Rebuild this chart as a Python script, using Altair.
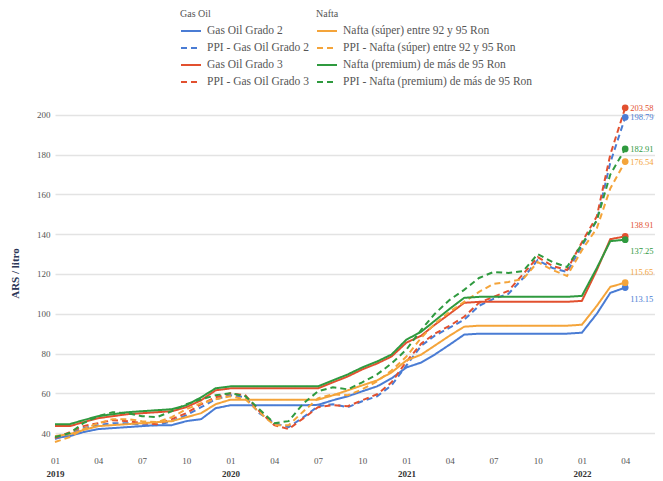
import altair as alt
import pandas as pd

# ---- data (monthly, Jan 2019 .. Apr 2022) ----
months = [f"{y}-{m:02d}-01T00:00:00" for y in range(2019, 2023) for m in range(1, 13)][:40]

gas_oil_g2 = [37.5, 38.5, 40.5, 42.0, 42.5, 43.0, 43.5, 44.0, 44.0, 46.0, 47.0, 52.5,
              54.0, 54.0, 54.0, 54.0, 54.0, 54.0, 54.2, 56.5, 58.5, 61.0, 63.5, 67.5,
              73.0, 75.5, 79.5, 84.5, 89.5, 90.0, 90.0, 90.0, 90.0, 90.0, 90.0, 90.0,
              90.5, 100.0, 110.5, 113.15]
ppi_gas_oil_g2 = [37.0, 39.5, 42.5, 44.0, 45.0, 45.0, 44.0, 44.0, 46.0, 49.0, 53.0, 57.0,
                  59.0, 58.0, 50.0, 45.0, 43.0, 48.0, 53.5, 54.5, 53.0, 56.0, 58.5, 64.0,
                  74.0, 84.0, 89.0, 93.0, 97.0, 104.0, 107.5, 110.0, 118.0, 127.0, 123.0, 121.0,
                  134.0, 147.0, 176.0, 198.79]
gas_oil_g3 = [43.5, 43.5, 45.5, 47.5, 48.5, 49.5, 50.0, 50.5, 51.0, 53.0, 56.5, 61.5,
              62.5, 62.5, 62.5, 62.5, 62.5, 62.5, 62.5, 65.5, 68.5, 72.0, 75.0, 78.5,
              85.5, 89.0, 94.5, 100.0, 105.5, 106.0, 106.0, 106.0, 106.0, 106.0, 106.0, 106.0,
              106.5, 122.0, 137.5, 138.91]
ppi_gas_oil_g3 = [37.5, 40.5, 43.5, 45.0, 46.5, 46.0, 45.0, 44.5, 47.0, 50.0, 54.5, 58.0,
                  60.0, 59.0, 51.0, 44.0, 42.0, 47.5, 53.0, 54.0, 53.5, 56.5, 59.5, 65.5,
                  76.0, 85.0, 90.0, 94.0, 98.5, 105.5, 108.5, 111.5, 120.0, 128.5, 124.0, 122.0,
                  136.0, 149.0, 180.0, 203.58]
nafta_super = [38.5, 39.5, 41.5, 43.5, 44.0, 44.5, 45.0, 45.5, 46.0, 48.0, 50.0, 54.5,
               56.8, 56.8, 56.8, 56.8, 56.8, 56.8, 56.8, 59.0, 61.5, 64.0, 66.5, 70.5,
               76.5, 79.5, 84.0, 89.0, 93.5, 94.0, 94.0, 94.0, 94.0, 94.0, 94.0, 94.0,
               94.5, 104.0, 113.5, 115.65]
ppi_nafta_super = [35.5, 38.0, 42.0, 45.0, 47.0, 47.0, 46.0, 45.5, 48.0, 52.0, 55.0, 57.0,
                   58.5, 57.0, 50.5, 44.0, 44.0, 51.0, 57.5, 59.5, 59.0, 62.0, 66.0, 71.5,
                   78.5, 88.0, 95.0, 101.0, 106.0, 111.0, 115.0, 116.0, 117.5, 126.0, 122.0, 119.0,
                   132.0, 143.0, 163.0, 176.54]
nafta_premium = [44.5, 44.5, 46.5, 48.5, 49.5, 50.5, 51.0, 51.5, 52.0, 54.0, 58.0, 62.5,
                 63.5, 63.5, 63.5, 63.5, 63.5, 63.5, 63.5, 66.5, 69.5, 73.0, 76.0, 79.5,
                 87.0, 91.0, 96.5, 102.5, 108.0, 108.5, 108.5, 108.5, 108.5, 108.5, 108.5, 108.5,
                 109.0, 123.0, 136.5, 137.25]
ppi_nafta_premium = [38.0, 40.0, 45.0, 48.5, 50.5, 50.0, 48.5, 48.0, 51.0, 54.5, 57.0, 59.0,
                     60.0, 58.5, 52.0, 45.0, 46.0, 55.0, 61.0, 63.0, 62.0, 65.5, 69.5, 75.0,
                     82.0, 92.0, 100.0, 107.0, 112.0, 118.0, 121.0, 120.5, 121.5, 130.0, 126.0, 123.5,
                     135.0, 147.0, 170.0, 182.91]

go_order = ["Gas Oil Grado 2", "PPI - Gas Oil Grado 2", "Gas Oil Grado 3", "PPI - Gas Oil Grado 3"]
na_order = ["Nafta (súper) entre 92 y 95 Ron", "PPI - Nafta (súper) entre 92 y 95 Ron",
            "Nafta (premium) de más de 95 Ron", "PPI - Nafta (premium) de más de 95 Ron"]

go_values = [gas_oil_g2, ppi_gas_oil_g2, gas_oil_g3, ppi_gas_oil_g3]
na_values = [nafta_super, ppi_nafta_super, nafta_premium, ppi_nafta_premium]

BLUE, RED, ORANGE, GREEN = "#4a7cd4", "#e2502f", "#f4a43a", "#2f9a3f"
go_colors = [BLUE, BLUE, RED, RED]
na_colors = [ORANGE, ORANGE, GREEN, GREEN]
dashes = [[1, 0], [6, 4], [1, 0], [6, 4]]


def long_df(names, values):
    rows = []
    for n, vals in zip(names, values):
        for d, v in zip(months, vals):
            rows.append({"date": d, "series": n, "value": v})
    return pd.DataFrame(rows)


def last_df(names, values):
    return pd.DataFrame([{"date": months[-1], "series": n, "value": v[-1]} for n, v in zip(names, values)])


go_df, na_df = long_df(go_order, go_values), long_df(na_order, na_values)
go_last, na_last = last_df(go_order, go_values), last_df(na_order, na_values)

SERIF = "Liberation Serif"
xscale = alt.Scale(domain=[alt.DateTime(year=2019, month=1, date=1),
                           alt.DateTime(year=2022, month=6, date=2)])
yscale = alt.Scale(domain=[33, 208], nice=False, zero=False)
tick_values = [alt.DateTime(year=y, month=m, date=1)
               for y in range(2019, 2023) for m in (1, 4, 7, 10)
               if not (y == 2022 and m > 4)]

month_axis = alt.Axis(values=tick_values, format="%m", labelFont=SERIF, labelFontSize=9,
                      labelColor="#555", ticks=False, domain=False, grid=False,
                      labelPadding=9, labelFlush=False, labelOverlap=False,
                      title=None, orient="bottom")
year_axis = alt.Axis(values=tick_values,
                     labelExpr="month(datum.value) == 0 ? timeFormat(datum.value, '%Y') : ''",
                     labelFont=SERIF, labelFontSize=9, labelFontWeight="bold", labelColor="#333",
                     ticks=False, domain=False, grid=False, labelPadding=22,
                     labelFlush=False, labelOverlap=False, title=None, orient="bottom")
y_axis = alt.Axis(values=[40, 60, 80, 100, 120, 140, 160, 180, 200], grid=True,
                  gridColor="#e3e3e3", gridWidth=1.5, ticks=False, domain=False,
                  labelFont=SERIF, labelFontSize=9, labelColor="#555", labelPadding=5,
                  title="ARS / litro", titleFont=SERIF, titleFontSize=11,
                  titleFontWeight="bold", titleColor="#2a3556", titlePadding=16,
                  orient="left")

x_none = alt.X("date:T", scale=xscale, axis=None)
y_none = alt.Y("value:Q", scale=yscale, axis=None)


def legend(title, lx):
    return alt.Legend(title=title, orient="none", legendX=lx, legendY=-90,
                      direction="vertical", symbolType="stroke", symbolSize=400,
                      symbolStrokeWidth=2, labelFont=SERIF, labelFontSize=11.5,
                      labelColor="#555", titleFont=SERIF, titleFontSize=10,
                      titleFontWeight="normal", titleColor="#555", rowPadding=0,
                      titlePadding=1, labelOffset=5, padding=0, labelLimit=400)


def group(df, last, order, colors, title, lx, with_axes, above, below, level):
    color = alt.Color("series:N", scale=alt.Scale(domain=order, range=colors),
                      legend=legend(title, lx))
    dash = alt.StrokeDash("series:N", scale=alt.Scale(domain=order, range=dashes),
                          legend=legend(title, lx))
    x = alt.X("date:T", scale=xscale, axis=month_axis) if with_axes else x_none
    y = alt.Y("value:Q", scale=yscale, axis=y_axis) if with_axes else y_none
    lines = alt.Chart(df).mark_line(strokeWidth=2).encode(
        x=x, y=y, color=color, strokeDash=dash, order=alt.Order("date:T"))
    pts = alt.Chart(last).mark_point(filled=True, size=45, opacity=1).encode(
        x=x_none, y=y_none, color=alt.Color("series:N", scale=alt.Scale(domain=order, range=colors)))
    layers = [lines, pts]
    for names, dy in ((above, -11), (below, 11), (level, 0)):
        layers.append(
            alt.Chart(last).transform_filter(
                alt.FieldOneOfPredicate(field="series", oneOf=names)
            ).mark_text(align="left", baseline="middle", dx=5, dy=dy, font=SERIF, fontSize=8.5).encode(
                x=x_none, y=y_none, text=alt.Text("value:Q", format=".2f"),
                color=alt.Color("series:N", scale=alt.Scale(domain=order, range=colors)))
        )
    return alt.layer(*layers).resolve_axis(x="independent", y="independent")


go = group(go_df, go_last, go_order, go_colors, "Gas Oil", 125, True,
           ["Gas Oil Grado 3"], ["Gas Oil Grado 2"], ["PPI - Gas Oil Grado 2", "PPI - Gas Oil Grado 3"])
na = group(na_df, na_last, na_order, na_colors, "Nafta", 261, False,
           ["Nafta (súper) entre 92 y 95 Ron"], ["Nafta (premium) de más de 95 Ron"],
           ["PPI - Nafta (súper) entre 92 y 95 Ron", "PPI - Nafta (premium) de más de 95 Ron"])

years = alt.Chart(pd.DataFrame({"date": months, "value": gas_oil_g2})).mark_line(opacity=0).encode(
    x=alt.X("date:T", scale=xscale, axis=year_axis), y=y_none)

chart = alt.layer(go, na, years).resolve_scale(
    color="independent", strokeDash="independent"
).resolve_axis(x="independent", y="independent").properties(
    width=600, height=348,
    autosize=alt.AutoSizeParams(type="none"),
    padding={"left": 47, "top": 91, "right": 0, "bottom": 30},
).configure_view(stroke=None).configure_legend(
    labelFont=SERIF, titleFont=SERIF
).configure_axis(labelFont=SERIF, titleFont=SERIF)

chart.save("out.html", embed_options={"renderer": "svg", "actions": False})
